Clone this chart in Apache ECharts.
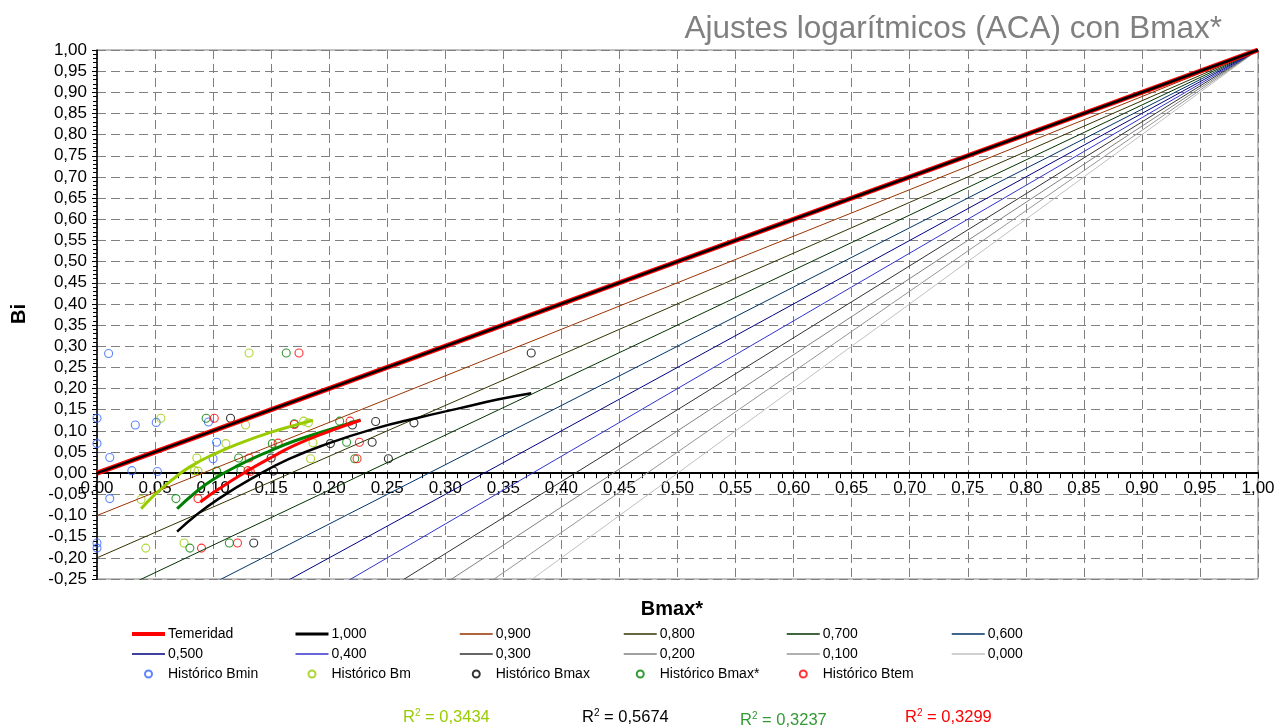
<!DOCTYPE html>
<html>
<head>
    <meta charset="utf-8">
    <title>Ajustes logarítmicos (ACA) con Bmax*</title>
    <script src="https://cdn.jsdelivr.net/npm/echarts@6/dist/echarts.min.js"></script>
    <style>
        body, html {
            margin: 0;
            height: 100%;
            background: #fff;
        }

        #main {
            width: 1285px;
            height: 728px;
        }
    </style>
</head>
<body>
<div id="main"></div>
<script type="text/javascript">
    // reference lines: all meet at (1,1), value of Bi at Bmax*=0
    var refNames = ['1,000', '0,900', '0,800', '0,700', '0,600', '0,500', '0,400', '0,300', '0,200', '0,100', '0,000'];
    var refStartY = [0, -0.1, -0.2, -0.3, -0.4, -0.5, -0.6, -0.7, -0.8, -0.9, -1.0];
    var temeridad = [[0, 0], [1, 1]];

    // historical points [Bmax*, Bi]
    var bminPts = [[0.010, 0.283], [0.000, 0.130], [0.033, 0.114], [0.051, 0.120], [0.096, 0.121],
        [0.000, 0.070], [0.011, 0.037], [0.103, 0.073], [0.100, 0.034], [0.030, 0.006],
        [0.052, 0.004], [0.011, -0.060], [0.000, -0.165], [0.000, -0.177]];
    var bmPts = [[0.131, 0.284], [0.055, 0.130], [0.128, 0.114], [0.178, 0.123], [0.182, 0.119],
        [0.111, 0.070], [0.186, 0.072], [0.086, 0.036], [0.184, 0.034], [0.084, 0.006],
        [0.087, 0.005], [0.038, -0.062], [0.042, -0.177], [0.075, -0.165]];
    var bmaxPts = [[0.374, 0.284], [0.115, 0.130], [0.220, 0.114], [0.240, 0.122], [0.273, 0.119],
        [0.201, 0.070], [0.237, 0.073], [0.150, 0.036], [0.251, 0.034], [0.152, 0.005],
        [0.135, -0.165]];
    var bmaxStarPts = [[0.163, 0.284], [0.094, 0.130], [0.170, 0.117], [0.209, 0.123], [0.151, 0.070],
        [0.215, 0.073], [0.122, 0.036], [0.222, 0.034], [0.103, 0.005], [0.124, 0.007],
        [0.068, -0.060], [0.080, -0.177], [0.114, -0.165]];
    var btemPts = [[0.174, 0.284], [0.101, 0.130], [0.170, 0.115], [0.218, 0.123], [0.156, 0.071],
        [0.226, 0.073], [0.131, 0.036], [0.224, 0.034], [0.130, 0.006], [0.132, 0.004],
        [0.087, -0.060], [0.090, -0.177], [0.121, -0.165]];

    // logarithmic fits
    var fitBm = [[0.038, -0.084], [0.050, -0.050], [0.065, -0.015], [0.080, 0.015], [0.100, 0.044],
        [0.125, 0.073], [0.150, 0.097], [0.170, 0.113], [0.186, 0.125]];
    var fitBmax = [[0.069, -0.138], [0.085, -0.100], [0.105, -0.060], [0.133, -0.013], [0.165, 0.033],
        [0.200, 0.071], [0.240, 0.106], [0.275, 0.130], [0.310, 0.152], [0.345, 0.174], [0.374, 0.189]];
    var fitBmaxStar = [[0.069, -0.084], [0.085, -0.045], [0.100, -0.015], [0.120, 0.016], [0.150, 0.054],
        [0.170, 0.076], [0.200, 0.103], [0.227, 0.126]];
    var fitBtem = [[0.089, -0.068], [0.105, -0.037], [0.128, 0.003], [0.150, 0.037], [0.170, 0.066],
        [0.200, 0.099], [0.227, 0.125]];

    var r2Values = ['0,3434', '0,5674', '0,3237', '0,3299'];

    var FONT = '"Liberation Sans", Arial, sans-serif';
    var refColors = ['#000000', '#993300', '#333300', '#003300', '#003366', '#000080',
        '#3333cc', '#333333', '#808080', '#969696', '#c0c0c0'];
    var cBmin = '#3366ff', cBm = '#99cc00', cBmax = '#000000', cBmaxStar = '#008000', cBtem = '#ff0000';

    function fmt(v) {
        if (Math.abs(v) < 1e-9) v = 0;
        return v.toFixed(2).replace('.', ',');
    }

    var series = [];

    // thin reference lines first (0,000 .. 0,900)
    for (var i = refNames.length - 1; i >= 1; i--) {
        series.push({
            name: refNames[i],
            type: 'line',
            symbol: 'none',
            silent: true,
            lineStyle: {color: refColors[i], width: 1},
            itemStyle: {color: refColors[i]},
            data: [[0, refStartY[i]], [1, 1]]
        });
    }
    series.push({
        name: 'Temeridad',
        type: 'line',
        symbol: 'none',
        lineStyle: {color: '#ff0000', width: 5},
        itemStyle: {color: '#ff0000'},
        data: temeridad
    });
    series.push({
        name: refNames[0],
        type: 'line',
        symbol: 'none',
        lineStyle: {color: refColors[0], width: 2.5},
        itemStyle: {color: refColors[0]},
        data: [[0, refStartY[0]], [1, 1]]
    });

    function scatter(name, color, pts) {
        return {
            name: name,
            type: 'scatter',
            symbol: 'circle',
            symbolSize: 8,
            itemStyle: {color: 'rgba(0,0,0,0)', borderColor: color, borderWidth: 1.1},
            data: pts
        };
    }
    series.push(scatter('Histórico Bmin', cBmin, bminPts));
    series.push(scatter('Histórico Bm', cBm, bmPts));
    series.push(scatter('Histórico Bmax', cBmax, bmaxPts));
    series.push(scatter('Histórico Bmax*', cBmaxStar, bmaxStarPts));
    series.push(scatter('Histórico Btem', cBtem, btemPts));

    function fit(name, color, pts, w) {
        return {
            name: name,
            type: 'line',
            symbol: 'none',
            smooth: true,
            lineStyle: {color: color, width: w},
            data: pts
        };
    }
    series.push(fit('Ajuste Bmax', cBmax, fitBmax, 2.5));
    series.push(fit('Ajuste Bmax*', cBmaxStar, fitBmaxStar, 3));
    series.push(fit('Ajuste Btem', cBtem, fitBtem, 3));
    series.push(fit('Ajuste Bm', cBm, fitBm, 3));

    var legendCols = [
        ['Temeridad', '0,500', 'Histórico Bmin'],
        ['1,000', '0,400', 'Histórico Bm'],
        ['0,900', '0,300', 'Histórico Bmax'],
        ['0,800', '0,200', 'Histórico Bmax*'],
        ['0,700', '0,100', 'Histórico Btem'],
        ['0,600', '0,000']
    ];
    var legendLeft = [130, 294, 459, 623, 786, 951];

    function legendItem(name) {
        if (name.indexOf('Histórico') === 0) return name;
        var w = name === 'Temeridad' ? 4 : (name === '1,000' ? 3 : 1.5);
        return {name: name, itemStyle: {opacity: 0}, lineStyle: {width: w}};
    }

    var legends = legendCols.map(function (col, k) {
        return {
            data: col.map(legendItem),
            orient: 'vertical',
            left: legendLeft[k],
            top: 627,
            itemWidth: 33,
            itemHeight: 7,
            itemGap: 6,
            padding: 0,
            selectedMode: false,
            textStyle: {fontFamily: FONT, fontSize: 14, color: '#000', padding: [0, 0, 0, -2]}
        };
    });

    var r2Colors = [cBm, '#000000', '#339933', cBtem];
    var r2X = [403, 582, 740, 905];
    var r2Y = [717, 717, 720, 717];
    var graphics = r2Values.map(function (v, k) {
        return {
            type: 'text',
            x: r2X[k],
            y: r2Y[k],
            style: {
                text: '{r|R}{s|2}{r| = ' + v + '}',
                textVerticalAlign: 'middle',
                rich: {
                    r: {fontFamily: FONT, fontSize: 16.5, fill: r2Colors[k]},
                    s: {fontFamily: FONT, fontSize: 10, fill: r2Colors[k], verticalAlign: 'top'}
                }
            }
        };
    });
    graphics.push({
        type: 'text', x: 672, y: 609,
        style: {text: 'Bmax*', font: 'bold 20px ' + FONT, textAlign: 'center', textVerticalAlign: 'middle', fill: '#000'}
    });
    graphics.push({
        type: 'text', x: 19, y: 314, rotation: Math.PI / 2,
        style: {text: 'Bi', font: 'bold 20px ' + FONT, textAlign: 'center', textVerticalAlign: 'middle', fill: '#000'}
    });

    var dashed = {color: '#808080', width: 1, type: [9, 5]};

    var option = {
        animation: false,
        backgroundColor: '#ffffff',
        title: {
            text: 'Ajustes logarítmicos (ACA) con Bmax*',
            right: 58,
            top: 8,
            textStyle: {fontFamily: FONT, fontSize: 31.5, fontWeight: 'normal', color: '#808080'}
        },
        legend: legends,
        grid: {
            left: 97,
            right: 27,
            top: 50,
            bottom: 149,
            show: true,
            borderColor: '#808080',
            borderWidth: 1
        },
        xAxis: {
            type: 'value',
            min: 0,
            max: 1,
            interval: 0.05,
            axisLine: {onZero: true, lineStyle: {color: '#000', width: 2}},
            axisTick: {show: true, length: 5, lineStyle: {color: '#000'}},
            minorTick: {show: true, splitNumber: 5, length: 5, lineStyle: {color: '#000'}},
            axisLabel: {fontFamily: FONT, fontSize: 17, color: '#000', margin: -99, formatter: fmt},
            splitLine: {show: true, lineStyle: dashed}
        },
        yAxis: {
            type: 'value',
            min: -0.25,
            max: 1,
            interval: 0.05,
            axisLine: {show: true, onZero: false, lineStyle: {color: '#000', width: 1.5}},
            axisTick: {show: true, length: 5, lineStyle: {color: '#000'}},
            minorTick: {show: true, splitNumber: 5, length: 4, lineStyle: {color: '#000'}},
            axisLabel: {fontFamily: FONT, fontSize: 17, color: '#000', margin: 10, formatter: fmt},
            splitLine: {show: true, lineStyle: dashed}
        },
        graphic: graphics,
        series: series
    };

    var myChart = echarts.init(document.getElementById('main'));
    myChart.setOption(option);
</script>
</body>
</html>
